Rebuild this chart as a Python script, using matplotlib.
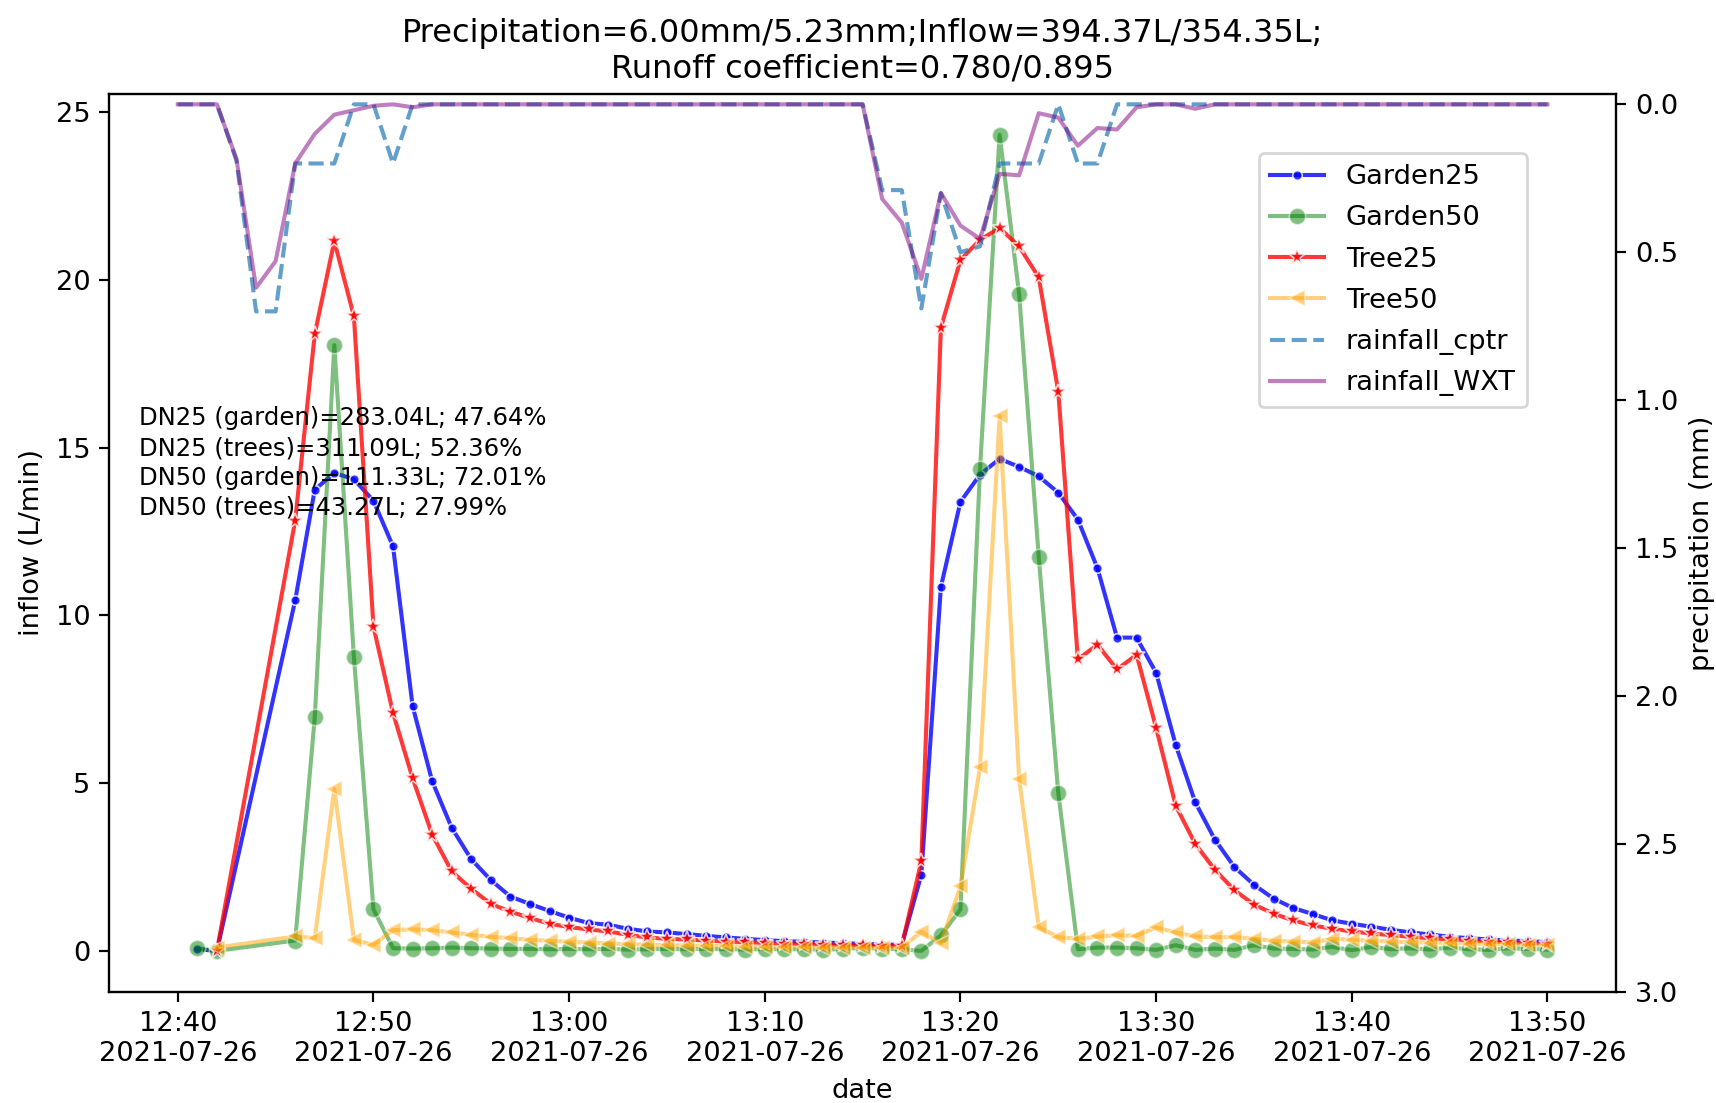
import pandas as pd
import matplotlib
matplotlib.use("Agg")
import matplotlib.pyplot as plt
import matplotlib.dates as mdates

# time axes (one value per minute)
day = "2021-07-26 "
rain_time = pd.date_range(day + "12:40", day + "13:50", freq="min")
flow_time = pd.to_datetime([day + "12:41", day + "12:42"]).append(
    pd.date_range(day + "12:46", day + "13:50", freq="min"))

# rainfall (mm per minute), 12:40 .. 13:50
rain_cptr = [0, 0, 0, 0.19, 0.7, 0.7, 0.2, 0.2, 0.2, 0,
             0, 0.2, 0, 0, 0, 0, 0, 0, 0, 0,
             0, 0, 0, 0, 0, 0, 0, 0, 0, 0,
             0, 0, 0, 0, 0, 0, 0.29, 0.29, 0.69, 0.3,
             0.5, 0.48, 0.2, 0.2, 0.2, 0, 0.2, 0.2, 0, 0,
             0, 0, 0, 0, 0, 0, 0, 0, 0, 0,
             0, 0, 0, 0, 0, 0, 0, 0, 0, 0,
             0]
rain_wxt = [0, 0, 0, 0.185, 0.62, 0.53, 0.2, 0.1, 0.035, 0.02,
            0.005, 0, 0.01, 0, 0, 0, 0, 0, 0, 0,
            0, 0, 0, 0, 0, 0, 0, 0, 0, 0,
            0, 0, 0, 0, 0, 0, 0.32, 0.4, 0.59, 0.3,
            0.41, 0.455, 0.235, 0.24, 0.03, 0.045, 0.14, 0.08, 0.085, 0.01,
            0, 0, 0.015, 0, 0, 0, 0, 0, 0, 0,
            0, 0, 0, 0, 0, 0, 0, 0, 0, 0,
            0]

# inflow (L/min): 12:41, 12:42, then 12:46 .. 13:50
garden25 = [0.05, 0.0,
            10.45, 13.75, 14.25, 14.06, 13.42, 12.06, 7.3, 5.06, 3.67, 2.73,
            2.11, 1.62, 1.40, 1.19, 0.99, 0.83, 0.78, 0.66, 0.58, 0.55,
            0.50, 0.45, 0.40, 0.36, 0.32, 0.29, 0.27, 0.25, 0.23, 0.21,
            0.19, 0.18,
            2.27, 10.85, 13.39, 14.2, 14.67, 14.43, 14.15, 13.66, 12.86, 11.41,
            9.34, 9.34, 8.29, 6.14, 4.43, 3.32, 2.50, 1.97, 1.56, 1.28,
            1.10, 0.91, 0.81, 0.72, 0.63, 0.55, 0.49, 0.42, 0.38, 0.34,
            0.31, 0.29, 0.26]
garden50 = [0.08, 0.0,
            0.31, 6.96, 18.06, 8.76, 1.24, 0.08, 0.07, 0.08, 0.1, 0.08,
            0.07, 0.06, 0.06, 0.05, 0.06, 0.05, 0.06, 0.04, 0.05, 0.06,
            0.05, 0.06, 0.05, 0.04, 0.06, 0.05, 0.05, 0.04, 0.05, 0.1,
            0.06, 0.05,
            0.0, 0.46, 1.24, 14.38, 24.33, 19.57, 11.75, 4.70, 0.05, 0.1,
            0.1, 0.08, 0.03, 0.17, 0.03, 0.07, 0.03, 0.17, 0.07, 0.06,
            0.04, 0.12, 0.02, 0.12, 0.05, 0.08, 0.04, 0.1, 0.05, 0.03,
            0.08, 0.06, 0.04]
tree25 = [None, 0.0,
          12.83, 18.39, 21.16, 18.92, 9.67, 7.09, 5.15, 3.47, 2.37, 1.85,
          1.40, 1.17, 0.98, 0.81, 0.71, 0.64, 0.58, 0.48, 0.40, 0.36,
          0.34, 0.31, 0.28, 0.26, 0.24, 0.22, 0.21, 0.19, 0.18, 0.17,
          0.16, 0.15,
          2.67, 18.58, 20.6, 21.2, 21.55, 21.0, 20.08, 16.67, 8.69, 9.13,
          8.39, 8.83, 6.65, 4.33, 3.19, 2.42, 1.81, 1.38, 1.11, 0.91,
          0.76, 0.66, 0.58, 0.52, 0.47, 0.42, 0.38, 0.34, 0.31, 0.28,
          0.26, 0.24, 0.22]
tree50 = [None, 0.1,
          0.43, 0.38, 4.83, 0.33, 0.18, 0.62, 0.64, 0.62, 0.55, 0.48,
          0.42, 0.38, 0.33, 0.3, 0.27, 0.25, 0.22, 0.2, 0.18, 0.17,
          0.16, 0.15, 0.14, 0.13, 0.12, 0.12, 0.11, 0.1, 0.1, 0.09,
          0.09, 0.1,
          0.57, 0.23, 1.92, 5.47, 15.94, 5.11, 0.71, 0.41, 0.36, 0.43,
          0.47, 0.45, 0.70, 0.55, 0.43, 0.41, 0.41, 0.36, 0.30, 0.28,
          0.25, 0.36, 0.33, 0.3, 0.28, 0.26, 0.25, 0.24, 0.22, 0.21,
          0.2, 0.19, 0.18]

title = "Precipitation=6.00mm/5.23mm;Inflow=394.37L/354.35L;\nRunoff coefficient=0.780/0.895"
note = ("DN25 (garden)=283.04L; 47.64%\nDN25 (trees)=311.09L; 52.36%\n"
        "DN50 (garden)=111.33L; 72.01%\nDN50 (trees)=43.27L; 27.99%")

flow = pd.DataFrame({"Garden25": garden25, "Garden50": garden50,
                     "Tree25": tree25, "Tree50": tree50},
                    index=flow_time, dtype=float)

styles = {
    "Garden25": dict(color="blue", alpha=0.8, marker=".", markersize=7),
    "Garden50": dict(color="green", alpha=0.5, marker="o", markersize=6),
    "Tree25": dict(color="red", alpha=0.78, marker="*", markersize=6),
    "Tree50": dict(color="orange", alpha=0.5, marker="<", markersize=6),
}

dpi = 196
fig, ax = plt.subplots(figsize=(1716 / dpi, 1103 / dpi), dpi=dpi)
fig.subplots_adjust(left=0.0637, right=0.9417, top=0.9148, bottom=0.1009)

for name, st in styles.items():
    s = flow[name].dropna()
    ax.plot(s.index, s.values, label=name, lw=1.5,
            markeredgecolor="white", markeredgewidth=0.6, **st)

ax2 = ax.twinx()
ax2.plot(rain_time, rain_cptr, "--", color="tab:blue", alpha=0.7, lw=1.5, label="rainfall_cptr")
ax2.plot(rain_time, rain_wxt, "-", color="purple", alpha=0.5, lw=1.5, label="rainfall_WXT")
ax2.set_ylim(3.0, -0.035)
ax2.set_ylabel("precipitation (mm)")

ax.set_xlabel("date")
ax.set_ylabel("inflow (L/min)")
ax.xaxis.set_major_locator(mdates.MinuteLocator(byminute=range(0, 60, 10)))
ax.xaxis.set_major_formatter(mdates.DateFormatter("%H:%M\n%Y-%m-%d"))
ax.set_title(title, fontsize=11.8)

ax.text(0.0198, 0.652, note, transform=ax.transAxes, va="top", ha="left",
        fontsize=8.9, linespacing=1.3)

h1, l1 = ax.get_legend_handles_labels()
h2, l2 = ax2.get_legend_handles_labels()
ax2.legend(h1 + h2, l1 + l2, loc="upper right", bbox_to_anchor=(0.9407, 0.934),
           borderaxespad=0, labelspacing=0.56)

fig.savefig("out.png", dpi=dpi)
